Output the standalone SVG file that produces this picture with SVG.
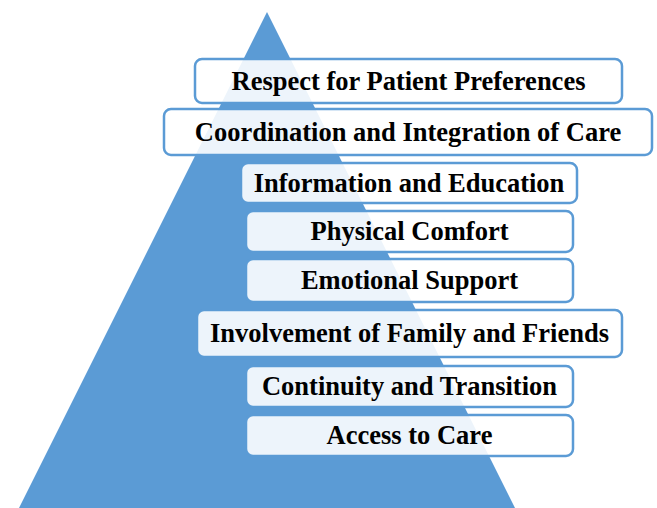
<svg xmlns="http://www.w3.org/2000/svg" width="657" height="508" viewBox="0 0 657 508">
  <style>
    .box { fill: #ffffff; fill-opacity: 0.89; stroke: #5B9BD5; stroke-width: 2.5; }
    .lbl { font-family: "Liberation Serif", "Times New Roman", serif; font-weight: bold; font-size: 26.5px; fill: #000000; text-anchor: middle; }
  </style>
  <!-- pyramid background -->
  <polygon id="pyramid" points="267,12 19,508 515,508" fill="#5B9BD5"/>
  <g id="levels">
    <g id="respect">
      <rect class="box" x="195" y="59" width="427" height="44" rx="7"/>
      <text class="lbl" x="408.5" y="90">Respect for Patient Preferences</text>
    </g>
    <g id="coordination">
      <rect class="box" x="164" y="109" width="488" height="46" rx="7"/>
      <text class="lbl" x="408" y="141">Coordination and Integration of Care</text>
    </g>
    <g id="information">
      <rect class="box" x="241" y="163" width="336" height="40" rx="7"/>
      <text class="lbl" x="409" y="192">Information and Education</text>
    </g>
    <g id="physical">
      <rect class="box" x="246" y="211" width="327" height="41" rx="7"/>
      <text class="lbl" x="409.5" y="240">Physical Comfort</text>
    </g>
    <g id="emotional">
      <rect class="box" x="246" y="259" width="327" height="43" rx="7"/>
      <text class="lbl" x="409.5" y="289">Emotional Support</text>
    </g>
    <g id="involvement">
      <rect class="box" x="197" y="310" width="425" height="47" rx="7"/>
      <text class="lbl" x="409.5" y="342">Involvement of Family and Friends</text>
    </g>
    <g id="continuity">
      <rect class="box" x="246" y="366" width="327" height="41" rx="7"/>
      <text class="lbl" x="409.5" y="395">Continuity and Transition</text>
    </g>
    <g id="access">
      <rect class="box" x="246" y="415" width="327" height="41" rx="7"/>
      <text class="lbl" x="409.5" y="444">Access to Care</text>
    </g>
  </g>
</svg>
